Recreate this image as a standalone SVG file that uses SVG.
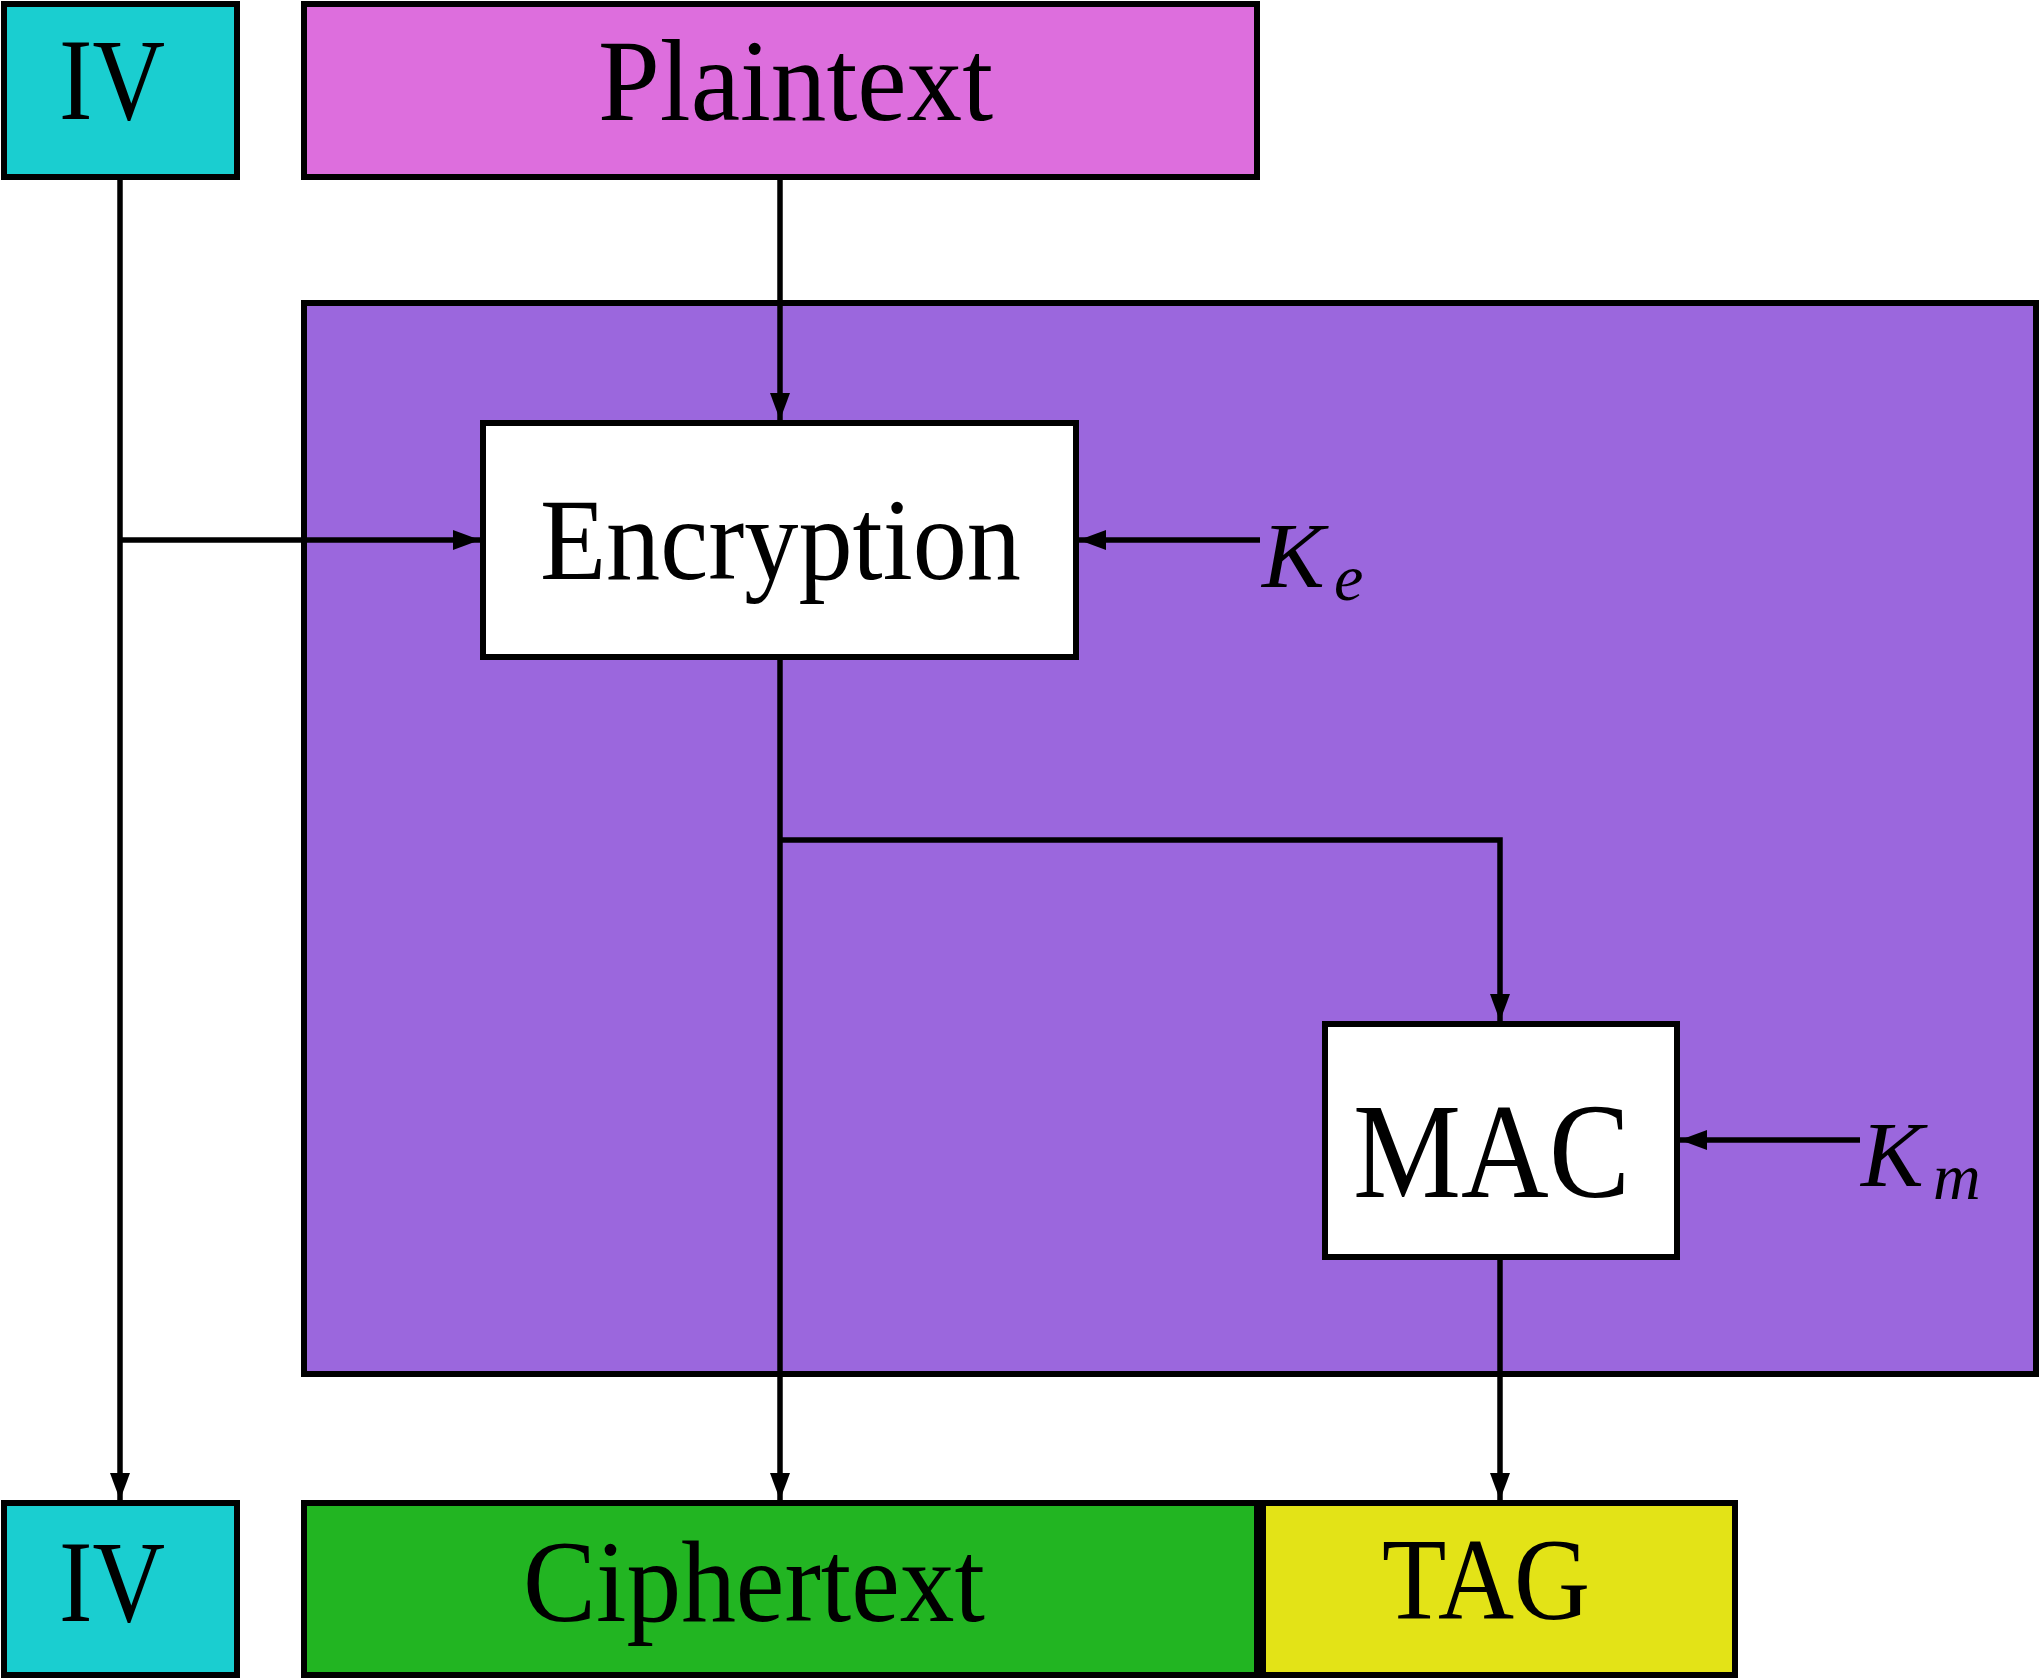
<svg xmlns="http://www.w3.org/2000/svg" width="2040" height="1680" viewBox="0 0 2040 1680">
<defs>
<style>
.box{stroke:#000;stroke-width:6}
.lbl{font-family:"Liberation Serif","DejaVu Serif",serif;fill:#000}
.math{font-family:"Liberation Serif","DejaVu Serif",serif;font-style:italic;fill:#000}
.wire{fill:none;stroke:#000;stroke-width:5.5}
</style>
<marker id="ah" markerUnits="userSpaceOnUse" markerWidth="28" markerHeight="20" refX="27" refY="10" orient="auto">
<path d="M0,0 L27,10 L0,20 Z" fill="#000"/>
</marker>
</defs>
<rect width="2040" height="1680" fill="#fff"/>
<g id="scheme">
<rect class="box" x="304" y="303" width="1732" height="1071" fill="#9B67DD"/>
</g>
<g id="iv-in">
<rect class="box" x="4" y="4" width="233" height="173" fill="#1ACED0"/>
<text class="lbl" x="59" y="119" font-size="116" textLength="106" lengthAdjust="spacingAndGlyphs">IV</text>
</g>
<g id="plaintext">
<rect class="box" x="304" y="4" width="953" height="173" fill="#DD6EDD"/>
<text class="lbl" x="598" y="120" font-size="116" textLength="395" lengthAdjust="spacingAndGlyphs">Plaintext</text>
</g>
<g id="encryption">
<rect class="box" x="483" y="423" width="593" height="234" fill="#fff"/>
<text class="lbl" x="540" y="579" font-size="116" textLength="481" lengthAdjust="spacingAndGlyphs">Encryption</text>
</g>
<g id="ke">
<text class="math" x="1262" y="587" font-size="94">K<tspan x="1334" y="600" font-size="66">e</tspan></text>
</g>
<g id="mac">
<rect class="box" x="1325" y="1024" width="352" height="233" fill="#fff"/>
<text class="lbl" x="1353" y="1197" font-size="136" textLength="277" lengthAdjust="spacingAndGlyphs">MAC</text>
</g>
<g id="km">
<text class="math" x="1861" y="1186" font-size="94">K<tspan x="1933" y="1199" font-size="66">m</tspan></text>
</g>
<g id="iv-out">
<rect class="box" x="4" y="1503" width="233" height="172" fill="#1ACED0"/>
<text class="lbl" x="59" y="1621" font-size="116" textLength="106" lengthAdjust="spacingAndGlyphs">IV</text>
</g>
<g id="ciphertext">
<rect class="box" x="304" y="1503" width="953" height="172" fill="#22B522"/>
<text class="lbl" x="523" y="1621" font-size="116" textLength="462" lengthAdjust="spacingAndGlyphs">Ciphertext</text>
</g>
<g id="tag">
<rect class="box" x="1263" y="1503" width="472" height="172" fill="#E3E317"/>
<text class="lbl" x="1382" y="1619" font-size="116" textLength="208" lengthAdjust="spacingAndGlyphs">TAG</text>
</g>
<g id="connectors">
<path class="wire" d="M120,177 V1500" marker-end="url(#ah)"/>
<path class="wire" d="M120,540 H480" marker-end="url(#ah)"/>
<path class="wire" d="M780,177 V420" marker-end="url(#ah)"/>
<path class="wire" d="M1260,540 H1079" marker-end="url(#ah)"/>
<path class="wire" d="M780,660 V1500" marker-end="url(#ah)"/>
<path class="wire" d="M780,840 H1500 V1021" marker-end="url(#ah)"/>
<path class="wire" d="M1860,1140 H1680" marker-end="url(#ah)"/>
<path class="wire" d="M1500,1260 V1500" marker-end="url(#ah)"/>
</g>
</svg>
